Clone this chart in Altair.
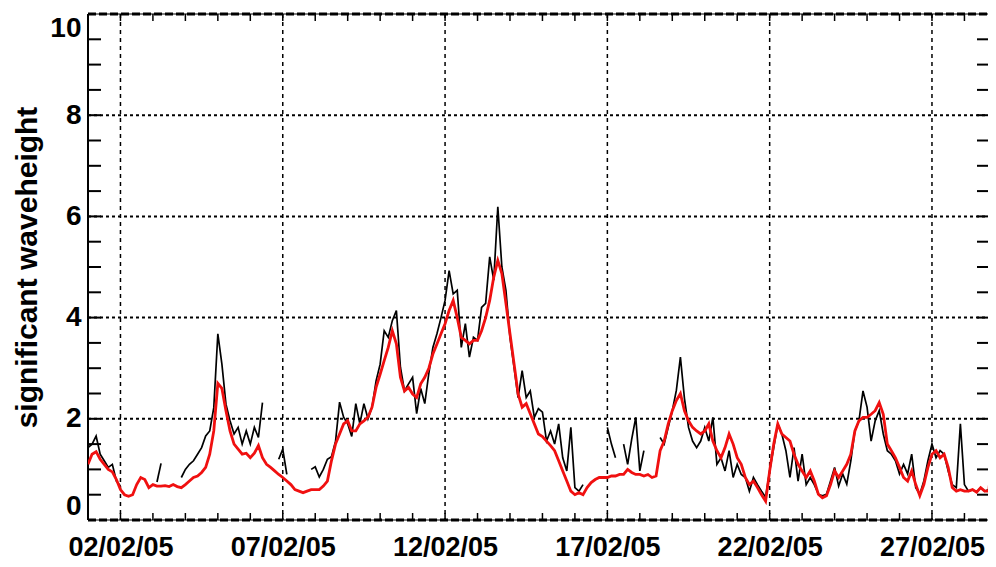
import altair as alt
import pandas as pd

# ---------------- data (3-hourly, days since 01/02/05 00:00) ----------------
STEP_HOURS = 3

# model (red) significant wave height, one row per day (8 values = 3-hourly)
red_w1 = [1.1, 1.3, 1.35, 1.2, 1.1, 1.0, 0.95, 0.8,
          0.6, 0.5, 0.47, 0.5, 0.7, 0.84, 0.8, 0.64,
          0.7, 0.67, 0.67, 0.68, 0.66, 0.7, 0.66, 0.64,
          0.7, 0.77, 0.84, 0.87, 0.94, 1.04, 1.3, 1.76,
          2.7, 2.6, 2.16, 1.76, 1.5, 1.4, 1.3, 1.32,
          1.23, 1.32, 1.47, 1.23, 1.1, 1.04, 0.97, 0.9,
          0.84, 0.77, 0.7, 0.6, 0.57, 0.54, 0.57, 0.6]
red_w2 = [0.6, 0.6, 0.67, 0.77, 1.17, 1.5, 1.7, 1.9,
          1.96, 1.76, 1.76, 1.9, 1.96, 2.03, 2.23, 2.62,
          2.88, 3.15, 3.41, 3.74, 3.48, 2.82, 2.55, 2.62,
          2.49, 2.42, 2.69, 2.82, 3.0, 3.28, 3.48, 3.68,
          3.88, 4.14, 4.34, 4.0, 3.61, 3.55, 3.48, 3.55,
          3.55, 3.74, 4.0, 4.34, 4.8, 5.13, 4.87, 4.28,
          3.68, 3.09, 2.49, 2.23, 2.3, 2.1, 1.9, 1.7]
red_w3 = [1.65, 1.56, 1.47, 1.37, 1.17, 0.97, 0.77, 0.57,
          0.5, 0.54, 0.5, 0.64, 0.74, 0.8, 0.84, 0.84,
          0.84, 0.87, 0.87, 0.9, 0.9, 1.0, 0.94, 0.9,
          0.9, 0.87, 0.9, 0.84, 0.87, 1.37, 1.56, 1.9,
          2.16, 2.36, 2.5, 2.16, 1.96, 1.83, 1.76, 1.7,
          1.76, 1.9, 1.56, 1.37, 1.23, 1.43, 1.7, 1.5,
          1.23, 1.1, 0.84, 0.7, 0.77, 0.64, 0.5, 0.37]
red_w4 = [0.97, 1.5, 1.9, 1.7, 1.63, 1.56, 1.3, 1.1,
          0.97, 0.84, 0.97, 0.77, 0.51, 0.44, 0.48, 0.7,
          0.97, 0.84, 0.97, 1.1, 1.3, 1.76, 1.96, 2.03,
          2.03, 2.09, 2.16, 2.32, 2.09, 1.5, 1.37, 1.23,
          1.04, 0.84, 0.77, 0.97, 0.7, 0.48, 0.7, 1.04,
          1.3, 1.37, 1.23, 1.3, 1.04, 0.64, 0.57, 0.6,
          0.57, 0.57, 0.6, 0.55, 0.64, 0.57, 0.57, 1.43]
red_end = [1.63]

# observed (black) significant wave height, None = missing
N = None
obs_w1 = [1.43, 1.5, 1.66, 1.3, 1.17, 1.04, 1.1, 0.77,
          0.67, N, N, N, N, N, N, N,
          N, 0.75, 1.12, N, N, N, N, 0.84,
          1.0, 1.1, 1.17, 1.3, 1.43, 1.66, 1.76, 2.22,
          3.68, 3.08, 2.29, 1.96, 1.7, 1.83, 1.5, 1.76,
          1.5, 1.83, 1.63, 2.32, N, N, N, 1.2,
          1.4, 0.9, N, N, N, N, N, 1.0]
obs_w2 = [1.05, 0.85, 1.0, 1.2, 1.25, 1.55, 2.33, 2.03,
          1.9, 1.65, 2.3, 1.9, 2.3, 2.0, 2.23, 2.75,
          3.08, 3.74, 3.61, 3.94, 4.14, 3.02, 2.55, 2.69,
          2.82, 2.1, 2.6, 2.3, 2.9, 3.41, 3.68, 4.0,
          4.34, 4.93, 4.47, 4.54, 3.41, 3.88, 3.22, 3.61,
          3.55, 4.2, 4.28, 5.2, 4.74, 6.19, 5.0, 4.54,
          3.61, 3.02, 2.42, 2.95, 2.42, 2.55, 2.03, 2.2]
obs_w3 = [2.13, 1.56, 1.76, 1.5, 1.9, 1.23, 0.97, 1.83,
          0.64, 0.57, 0.7, N, N, N, N, N,
          1.83, 1.5, 1.23, N, 1.5, 1.1, 1.6, 2.03,
          0.97, 1.37, N, N, N, 1.63, 1.5, 1.83,
          2.16, 2.56, 3.22, 2.4, 1.83, 1.56, 1.43, 1.56,
          1.83, 1.56, 2.03, 1.1, 1.23, 0.97, 1.37, 0.84,
          1.1, 0.9, 0.84, 0.57, 0.84, 0.7, 0.57, 0.45]
obs_w4 = [0.97, 1.43, 1.9, 1.7, 1.37, 0.84, 1.43, 0.77,
          1.3, 0.7, 0.84, 0.7, 0.51, 0.48, 0.51, 0.77,
          1.04, 0.67, 0.91, 0.71, 1.17, 1.76, 1.96, 2.55,
          2.23, 1.56, 1.96, 2.16, 1.7, 1.37, 1.3, 1.17,
          0.91, 1.1, 0.91, 1.3, 0.64, 0.51, 0.77, 1.17,
          1.5, 1.23, 1.37, 1.3, 0.97, 0.7, 0.64, 1.9,
          0.7, 0.57, 0.6, 0.55, 0.64, 0.57, 0.6, 1.63]
obs_end = [1.7]

# axis ticks / labels
label_days = [1, 6, 11, 16, 21, 26]
label_texts = ["02/02/05", "07/02/05", "12/02/05", "17/02/05", "22/02/05", "27/02/05"]
y_label_values = [0, 2, 4, 6, 8, 10]
y_grid_values = [2, 4, 6, 8]
y_minor_ticks = [0.5, 1, 1.5, 2, 2.5, 3, 3.5, 4, 4.5, 5, 5.5, 6, 6.5, 7, 7.5, 8, 8.5, 9, 9.5]
x_minor_ticks = list(range(1, 28))
x_domain = [0, 27.726]
y_domain = [0, 10]

# ---------------- tables ----------------
red_vals = red_w1 + red_w2 + red_w3 + red_w4 + red_end
obs_vals = obs_w1 + obs_w2 + obs_w3 + obs_w4 + obs_end
days = [i * STEP_HOURS / 24 for i in range(len(red_vals))]
red_df = pd.DataFrame({"d": days, "v": red_vals})

rows, seg, prev = [], 0, False
for d, v in zip(days, obs_vals):
    if v is None:
        if prev:
            seg += 1
        prev = False
        continue
    rows.append({"d": d, "v": v, "seg": seg})
    prev = True
obs_df = pd.DataFrame(rows)

# ---------------- chart ----------------
W, H = 900, 506
FONT = "Liberation Sans"
xs = alt.Scale(domain=x_domain, nice=False, zero=False)
ys = alt.Scale(domain=y_domain, nice=False, zero=False)

label_expr = " : ".join(f"datum.value == {d} ? '{t}'" for d, t in zip(label_days, label_texts)) + " : ''"

x_axis = alt.Axis(
    values=label_days, labelExpr=label_expr, labelFont=FONT, labelFontSize=27,
    labelFontWeight="bold", labelColor="black", ticks=False, domain=False, grid=False,
    labelPadding=14, title="", labelFlush=False, labelOverlap=False)
y_axis = alt.Axis(
    values=y_label_values, labelFont=FONT, labelFontSize=28, labelFontWeight="bold",
    labelColor="black", ticks=False, domain=False, grid=False, labelPadding=7,
    labelFlush=True, labelOverlap=False,
    title="significant waveheight", titleFont=FONT, titleFontSize=30,
    titleFontWeight="bold", titleColor="black", titleAngle=270, titleX=-61,
    titleY=H / 2, titleAlign="center", titleBaseline="middle")


def X(field):
    return alt.X(field, scale=xs, axis=x_axis)


def Y(field):
    return alt.Y(field, scale=ys, axis=y_axis)


hgrid = alt.Chart(pd.DataFrame({"v": y_grid_values})).mark_rule(
    color="black", strokeDash=[3, 3], strokeWidth=2
).encode(y=Y("v:Q"), x=alt.value(0), x2=alt.value(W))

vgrid = alt.Chart(pd.DataFrame({"d": label_days})).mark_rule(
    color="black", strokeDash=[4, 4], strokeWidth=1.5
).encode(x=X("d:Q"), y=alt.value(0), y2=alt.value(H))

frame_solid = alt.Chart(pd.DataFrame({"v": [0, 10]})).mark_rule(
    color="black", strokeWidth=1.2
).encode(y=Y("v:Q"), x=alt.value(0), x2=alt.value(W))

frame_dash = alt.Chart(pd.DataFrame({"v": [0, 10]})).mark_rule(
    color="black", strokeWidth=3, strokeDash=[8, 3]
).encode(y=Y("v:Q"), x=alt.value(0), x2=alt.value(W))

left_line = alt.Chart(pd.DataFrame({"v": [0]})).mark_rule(
    color="black", strokeWidth=2
).encode(x=alt.value(0), y=alt.value(0), y2=alt.value(H))

ytick_left = alt.Chart(pd.DataFrame({"v": y_minor_ticks})).mark_rule(
    color="black", strokeWidth=2
).encode(y=Y("v:Q"), x=alt.value(0), x2=alt.value(13))

ytick_right = alt.Chart(pd.DataFrame({"v": y_minor_ticks})).mark_rule(
    color="black", strokeWidth=2
).encode(y=Y("v:Q"), x=alt.value(W - 11), x2=alt.value(W))

xtick_bottom = alt.Chart(pd.DataFrame({"d": x_minor_ticks})).mark_rule(
    color="black", strokeWidth=1.5
).encode(x=X("d:Q"), y=alt.value(H - 7), y2=alt.value(H))

xtick_top = alt.Chart(pd.DataFrame({"d": x_minor_ticks})).mark_rule(
    color="black", strokeWidth=1.5
).encode(x=X("d:Q"), y=alt.value(0), y2=alt.value(7))

obs_line = alt.Chart(obs_df).mark_line(color="black", strokeWidth=1.7, clip=True).encode(
    x=X("d:Q"), y=Y("v:Q"), detail="seg:N",
)

red_line = alt.Chart(red_df).mark_line(color="#f01010", strokeWidth=2.8, clip=True).encode(
    x=X("d:Q"), y=Y("v:Q"),
)

chart = alt.layer(
    hgrid, vgrid, frame_solid, frame_dash, left_line, ytick_left, ytick_right,
    xtick_bottom, xtick_top, obs_line, red_line
).properties(
    width=W, height=H,
    autosize=alt.AutoSizeParams(type="none"),
    padding={"left": 80, "top": 6, "right": 0, "bottom": 46},
    background="white",
).configure_view(stroke=None)

chart.save("out.html", embed_options={"renderer": "svg", "actions": False})
